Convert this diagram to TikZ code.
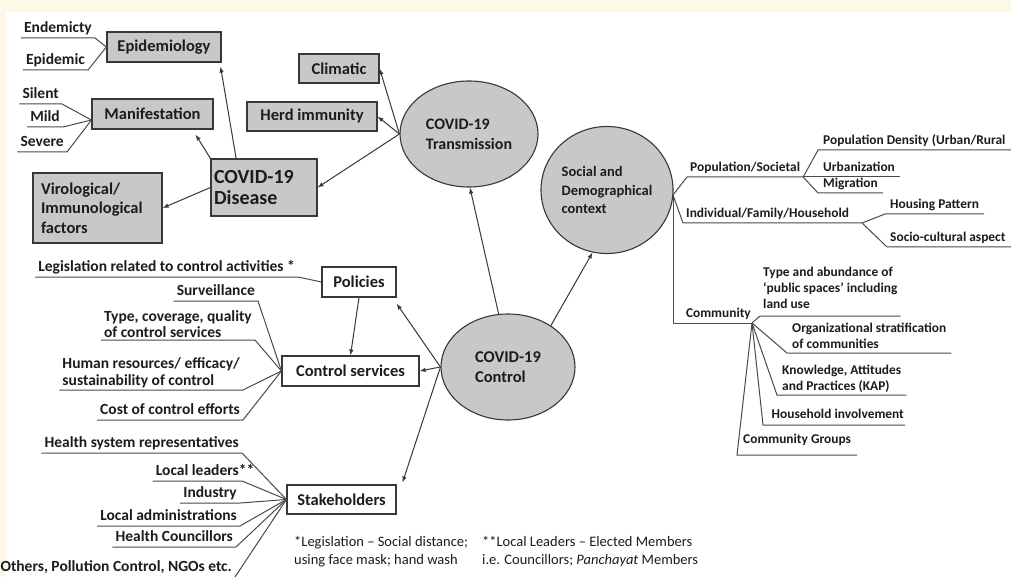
\documentclass[tikz,border=0pt]{standalone}
\usepackage{fontspec}
\setmainfont{Carlito}
\usetikzlibrary{shapes.geometric,arrows.meta,calc}
\definecolor{cream}{HTML}{FEF9E6}
\definecolor{boxgray}{HTML}{C8C8C8}
\definecolor{linegray}{HTML}{383838}
\definecolor{treegray}{HTML}{4A4A4A}
\definecolor{txt}{HTML}{1C1C1C}
\newcommand\myfs[2]{\fontsize{#1}{#2}\selectfont}
\begin{document}
\begin{tikzpicture}[x=1pt,y=-1pt,
  every node/.style={text=txt},
  gbox/.style={draw=linegray, line width=1.1pt, fill=boxgray, inner sep=0pt, font=\myfs{16.5}{20}\bfseries},
  wbox/.style={draw=linegray, line width=1.1pt, fill=white, inner sep=0pt, font=\myfs{16.5}{20}\bfseries},
  gell/.style={ellipse, draw=linegray, line width=1.1pt, fill=boxgray, inner sep=0pt, align=left},
  arr/.style={draw=linegray, line width=1pt, -{Latex[length=6pt,width=4.5pt]}},
  tree/.style={draw=treegray, line width=1pt},
  lft/.style={anchor=south east, inner xsep=3pt, inner ysep=1.5pt, text depth=3.5pt, font=\myfs{15.5}{17}\bfseries},
  lftm/.style={anchor=south east, inner xsep=3pt, inner ysep=2pt, align=left, font=\myfs{15.5}{16.5}\bfseries},
  rgt/.style={anchor=south west, inner xsep=3pt, inner ysep=2.5pt, text depth=3pt, font=\myfs{13.4}{16}\bfseries},
  rgtm/.style={anchor=south west, inner xsep=3pt, inner ysep=3pt, align=left, font=\myfs{13.4}{16}\bfseries},
  note/.style={anchor=north west, inner sep=0pt, align=left, font=\myfs{14.5}{18}}
]
\useasboundingbox (0,0) rectangle (1011,577);
\fill[white] (0,0) rectangle (1011,577);
\fill[cream] (0,0) rectangle (1011,12);
\fill[cream] (0,0) rectangle (6,577);

% ---------- main boxes and ellipses ----------
\node[gbox, minimum width=114pt, minimum height=30pt] (epi) at (164,47) {Epidemiology};
\node[gbox, minimum width=121pt, minimum height=30pt] (man) at (152.5,114) {Manifestation};
\node[gbox, minimum width=106pt, minimum height=57pt, text width=100pt, inner xsep=3pt, align=left, font=\myfs{20}{21}\bfseries] (dis) at (264,187.5) {COVID-19\\Disease};
\node[gbox, minimum width=129pt, minimum height=70pt, text width=113pt, inner xsep=8pt, align=left, font=\myfs{16.5}{19.5}\bfseries] (vir) at (97.5,208) {Virological/\\Immunological\\factors};
\node[gbox, minimum width=80pt, minimum height=29pt] (cli) at (339,68.5) {Climatic};
\node[gbox, minimum width=130pt, minimum height=29pt] (herd) at (312,116.5) {Herd immunity};
\node[gell, minimum width=138pt, minimum height=106pt, font=\myfs{16}{20}\bfseries] (tra) at (469,134) {COVID-19\\Transmission};
\node[gell, minimum width=132pt, minimum height=127pt, font=\myfs{14.5}{18.5}\bfseries] (soc) at (607,190) {Social and\\Demographical\\context};
\node[gell, minimum width=134pt, minimum height=106pt, font=\myfs{16.5}{20}\bfseries] (ctl) at (508,367) {COVID-19\\Control};
\node[wbox, minimum width=74pt, minimum height=30pt] (pol) at (359,282) {Policies};
\node[wbox, minimum width=137pt, minimum height=30pt] (cs) at (350.5,371) {Control services};
\node[wbox, minimum width=109pt, minimum height=29pt] (stk) at (341.5,499.5) {Stakeholders};

% ---------- arrows ----------
\draw[arr] ($(dis.north west)!0.24!(dis.north east)$) -- ($(epi.south east)+(-1,4)$);
\draw[arr] (dis.north west) -- ($(man.south east)+(-18,5)$);
\draw[arr] (dis.west) -- (vir.east);
\draw[arr] (tra.west) -- (cli.east);
\draw[arr] (tra.west) -- (herd.east);
\draw[arr] (tra.west) -- (dis.east);
\draw[arr] (ctl.100) -- (tra.-89);
\draw[arr] (ctl.44) -- (soc.-103);
\draw[arr] (ctl.west) -- ($(pol.south east)+(0,6)$);
\draw[arr] (ctl.west) -- (cs.east);
\draw[arr] (ctl.west) -- ($(stk.north east)+(6,-2)$);
\draw[arr] (pol.south) -- (cs.north);

% ---------- epidemiology / manifestation labels ----------
\node[lft] (endem) at (95,38) {Endemicty};
\node[lft] (epidem) at (88,70) {Epidemic};
\draw[tree] (endem.south west) -- (endem.south east) -- (epi.west);
\draw[tree] (epidem.south west) -- (epidem.south east) -- (epi.west);
\coordinate (manJ) at ($(man.west)+(0,6)$);
\node[lft] (sil) at (62,104) {Silent};
\node[lft] (mild) at (63,127) {Mild};
\node[lft] (sev) at (67,152) {Severe};
\draw[tree] (sil.south west) -- (sil.south east) -- (manJ);
\draw[tree] (mild.south west) -- (mild.south east) -- (manJ);
\draw[tree] (sev.south west) -- (sev.south east) -- (manJ);

% ---------- policies / control services labels ----------
\node[lft] (leg) at (298,277) {Legislation related to control activities *};
\draw[tree] (leg.south west) -- (leg.south east) -- (pol.west);
\node[lft] (surv) at (258,301) {Surveillance};
\node[lftm] (typ) at (255,340) {Type, coverage, quality\\of control services};
\node[lftm] (hr) at (243,390) {Human resources/ efficacy/\\sustainability of control};
\node[lft] (cost) at (243,420) {Cost of control efforts};
\draw[tree] (surv.south west) -- (surv.south east) -- (cs.west);
\draw[tree] (typ.south west) -- (typ.south east) -- (cs.west);
\draw[tree] (hr.south west) -- (hr.south east) -- (cs.west);
\draw[tree] (cost.south west) -- (cost.south east) -- (cs.west);

% ---------- stakeholders labels ----------
\node[lft] (hsr) at (242,453) {Health system representatives};
\node[lft] (ll) at (242,481) {Local leaders\rlap{**}};
\node[lft] (ind) at (240,503) {Industry};
\node[lft] (la) at (240,526) {Local administrations};
\node[lft] (hc) at (236,547) {Health Councillors};
\node[lft] (oth) at (235,577) {Others, Pollution Control, NGOs etc.};
\draw[tree] (hsr.south west) -- (hsr.south east) -- (stk.west);
\draw[tree] (ll.south west) -- (ll.south east) -- (stk.west);
\draw[tree] (ind.south west) -- (ind.south east) -- (stk.west);
\draw[tree] (la.south west) -- (la.south east) -- (stk.west);
\draw[tree] (hc.south west) -- (hc.south east) -- (stk.west);
\draw[tree] (oth.south east) -- (stk.west);

% ---------- footnotes ----------
\node[note] (fn1) at (294,536) {*Legislation – Social distance;\\using face mask; hand wash};
\node[note] (fn2) at (482,536) {**Local Leaders – Elected Members\\i.e. Councillors; \textit{Panchayat} Members};

% ---------- social and demographical context ----------
\coordinate (socJ) at (673,195);
\node[rgt] (ps) at (687,177) {Population/Societal};
\draw[tree] (socJ) -- (ps.south west) -- (ps.south east);
\node[rgt, inner xsep=5pt] (pd) at (818,150) {Population Density (Urban/Rural};
\coordinate (pdE) at (1011,150);
\draw[tree] (ps.south east) -- (pd.south west) -- (pdE);
\node[rgt, inner xsep=5pt] (urb) at (818,177) {Urbanization};
\draw[tree] (ps.south east) -- (urb.south east);
\node[rgt, inner xsep=5pt] (mig) at (818,193) {Migration};
\draw[tree] (ps.south east) -- (mig.south west) -- (mig.south east);
\node[rgt] (ifh) at (683,223) {Individual/Family/Household};
\coordinate (ifhJ) at (862,223);
\draw[tree] (socJ) -- (ifh.south west) -- (ifhJ);
\node[rgt, inner xsep=5pt] (hp) at (885,214) {Housing Pattern};
\draw[tree] (ifhJ) -- (hp.south west) -- (hp.south east);
\node[rgt] (sca) at (887,247) {Socio-cultural aspect};
\coordinate (scaE) at (1011,247);
\draw[tree] (ifhJ) -- (sca.south west) -- (scaE);

\node[rgt, anchor=south east, inner xsep=1pt] (com) at (752,323) {Community};
\draw[tree] (socJ) -- (socJ |- com.south east) -- (com.south east);
\node[rgtm, inner ysep=7pt] (tpa) at (760,316) {Type and abundance of\\`public spaces' including\\land use};
\draw[tree] (com.south east) -- (tpa.south west) -- (tpa.south east);
\node[rgtm, inner ysep=4pt, inner xsep=5pt] (org) at (787,353) {Organizational stratification\\of communities};
\draw[tree] (com.south east) -- (org.south west) -- (org.south east);
\node[rgtm, inner ysep=2pt, inner xsep=5pt] (kap) at (777,395) {Knowledge, Attitudes\\and Practices (KAP)};
\draw[tree] (com.south east) -- (kap.south west) -- (kap.south east);
\node[rgt, anchor=south east, inner ysep=3pt, inner xsep=1pt] (hhi) at (905,425) {Household involvement};
\coordinate (hhiS) at (763,425);
\draw[tree] (com.south east) -- (hhiS) -- (hhi.south east);
\node[rgt, inner ysep=8pt, inner xsep=6pt] (cg) at (737,455) {Community Groups};
\draw[tree] (com.south east) -- (cg.south west) -- (cg.south east);
\end{tikzpicture}
\end{document}
